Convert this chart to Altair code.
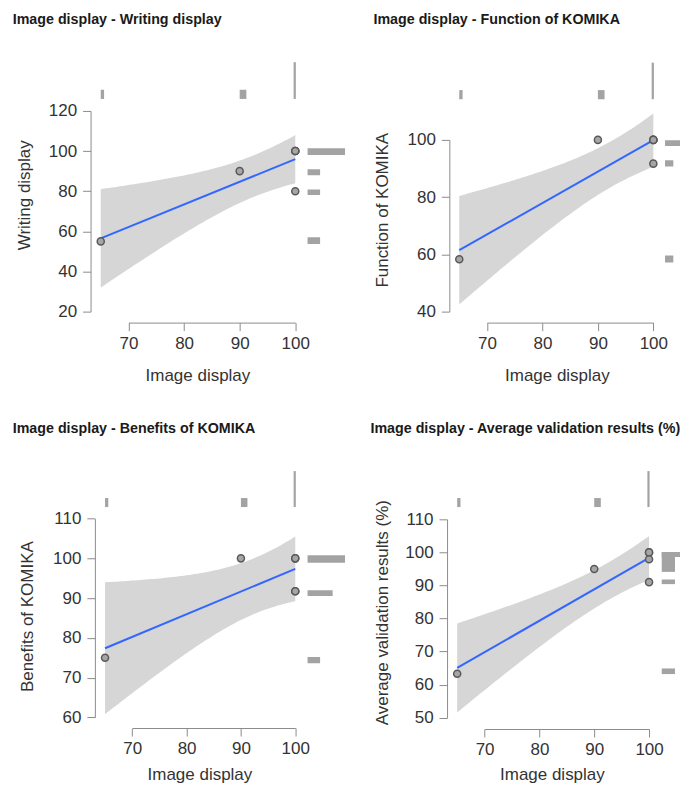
import altair as alt
import numpy as np
import pandas as pd

# ---------------- data ----------------
x_image = [65, 90, 100, 100, 100, 100]          # Image display
writing = [55, 90, 100, 100, 100, 80]           # Writing display
function = [58.3, 100, 100, 100, 100, 91.7]     # Function of KOMIKA
benefits = [75, 100, 100, 100, 91.7, 91.7]      # Benefits of KOMIKA
average = [63.3, 95, 100, 100, 97.9, 91.0]      # Average validation results (%)

x_ticks = [70, 80, 90, 100]
yticks_writing = [20, 40, 60, 80, 100, 120]
yticks_function = [40, 60, 80, 100]
yticks_benefits = [60, 70, 80, 90, 100, 110]
yticks_average = [50, 60, 70, 80, 90, 100, 110]

# marginal histogram of Image display (top strip): bin start, bin end, count
top_lo = [65.0, 90.0, 99.7]
top_hi = [65.6, 91.2, 100.1]
top_n = [1, 1, 4]

# marginal histograms of the y variables (right strips)
w_lo, w_hi, w_n = [98.1, 88.0, 78.1, 53.7], [101.4, 91.0, 80.8, 57.0], [3, 1, 1, 1]
f_lo, f_hi, f_n = [97.9, 90.7, 57.2], [99.9, 92.9, 59.6], [4, 1, 1]
b_lo, b_hi, b_n = [98.9, 90.5, 73.6], [100.8, 92.0, 75.2], [3, 2, 1]
a_lo, a_hi, a_n = [94.1, 98.6, 90.4, 63.2], [100.1, 100.1, 91.8, 64.9], [1, 3, 1, 1]

T_CRIT = 2.776  # t(0.975, df = n - 2 = 4)

FONT = "Liberation Sans"
BAND = "#d6d6d6"
BLUE = "#3366ff"
BAR = "#a3a3a3"
AX = "#8c8c8c"
TX = "#333333"


def band_frame(xv, yv):
    x = np.asarray(xv, float)
    y = np.asarray(yv, float)
    n = len(x)
    xm = x.mean()
    sxx = ((x - xm) ** 2).sum()
    b = ((x - xm) * (y - y.mean())).sum() / sxx
    a = y.mean() - b * xm
    s = np.sqrt(((y - (a + b * x)) ** 2).sum() / (n - 2))
    grid = np.linspace(x.min(), x.max(), 71)
    fit = a + b * grid
    se = s * np.sqrt(1.0 / n + (grid - xm) ** 2 / sxx)
    return pd.DataFrame({"x": grid, "lo": fit - T_CRIT * se, "hi": fit + T_CRIT * se})


def make_panel(title, ylab, yv, yticks, rlo, rhi, rn, g):
    pts = pd.DataFrame({"x": x_image, "y": yv})
    bd = band_frame(x_image, yv)
    top_df = pd.DataFrame({"lo": top_lo, "hi": top_hi, "n": top_n})
    right_df = pd.DataFrame({"lo": rlo, "hi": rhi, "n": rn})

    def xs():
        return alt.Scale(domain=[x_ticks[0], x_ticks[-1]], range=g["xr"], nice=False, zero=False)

    def ys():
        return alt.Scale(domain=[yticks[0], yticks[-1]], range=g["yr"], nice=False, zero=False)

    band = alt.Chart(bd).mark_area(color=BAND, opacity=1).encode(
        x=alt.X("x:Q", scale=xs(), axis=None),
        y=alt.Y("lo:Q", scale=ys(), axis=None),
        y2="hi:Q",
    )
    line = alt.Chart(pts).transform_regression("x", "y").mark_line(
        color=BLUE, strokeWidth=2
    ).encode(
        x=alt.X("x:Q", scale=xs(), axis=None),
        y=alt.Y("y:Q", scale=ys(), axis=None),
    )
    common = dict(
        tickSize=8, tickColor=AX, domainColor=AX, domainWidth=1, tickWidth=1,
        labelFont=FONT, titleFont=FONT, labelFontSize=17, titleFontSize=17,
        labelColor=TX, titleColor=TX, titleFontWeight="normal", grid=False,
        labelOverlap=False, labelFlush=False,
    )
    dots = alt.Chart(pts).mark_circle(
        size=50, fill="#a6a6a6", stroke="#595959", strokeWidth=1.5, opacity=1
    ).encode(
        x=alt.X("x:Q", scale=xs(), axis=alt.Axis(
            values=x_ticks, title="Image display", titleX=g["xtx"], titleY=g["xty"],
            titleBaseline="top", labelPadding=5, **common)),
        y=alt.Y("y:Q", scale=ys(), axis=alt.Axis(
            values=yticks, title=ylab, offset=g["yoff"], titleX=g["ytx"],
            titleY=g["yty"], labelPadding=6, **common)),
    )
    top = alt.Chart(top_df).mark_rect(color=BAR).encode(
        x=alt.X("lo:Q", scale=xs(), axis=None),
        x2="hi:Q",
        y=alt.Y("n:Q", scale=alt.Scale(domain=[0, 4], range=g["tr"], nice=False, zero=True), axis=None),
        y2=alt.datum(0),
    )
    right = alt.Chart(right_df).mark_rect(color=BAR, clip=True).encode(
        y=alt.Y("lo:Q", scale=ys(), axis=None),
        y2="hi:Q",
        x=alt.X("n:Q", scale=alt.Scale(domain=g["rd"], range=g["rr"], nice=False, zero=True), axis=None),
        x2=alt.datum(0),
    )
    return alt.layer(band, line, dots, top, right).resolve_scale(
        x="independent", y="independent"
    ).properties(
        width=g["w"], height=g["h"],
        title=alt.TitleParams(
            title, anchor="start", frame="group", dx=g["tdx"], offset=34,
            fontSize=14.3, fontWeight="bold", font=FONT, color="#1a1a1a",
        ),
    )


g1 = dict(w=250.7, h=262, xr=[33.7, 200.7], yr=[251, 50], tr=[38, 1.2], rd=[0, 3], rr=[213, 250.7],
          yoff=4.3, tdx=-82.3, ytx=-57, yty=134, xtx=102.7, xty=45)
g2 = dict(w=231, h=262, xr=[37.7, 204.3], yr=[251, 79], tr=[38.3, 1.7], rd=[0, 1], rr=[216, 224.3],
          yoff=0, tdx=-76, ytx=-57.7, yty=149, xtx=107.7, xty=45)
g3 = dict(w=250.7, h=258, xr=[37.4, 200.7], yr=[247.3, 48.3], tr=[36.7, 0.7], rd=[0, 3], rr=[213, 250.7],
          yoff=0, tdx=-82.3, ytx=-58, yty=146, xtx=104.7, xty=38.5)
g4 = dict(w=231, h=259, xr=[35.3, 200], yr=[247.7, 49], tr=[36.7, 0.7], rd=[0, 1], rr=[212.7, 226],
          yoff=2.3, tdx=-79, ytx=-55.7, yty=142, xtx=102.7, xty=37.5)

p1 = make_panel("Image display - Writing display", "Writing display", writing, yticks_writing, w_lo, w_hi, w_n, g1)
p2 = make_panel("Image display - Function of KOMIKA", "Function of KOMIKA", function, yticks_function, f_lo, f_hi, f_n, g2)
p3 = make_panel("Image display - Benefits of KOMIKA", "Benefits of KOMIKA", benefits, yticks_benefits, b_lo, b_hi, b_n, g3)
p4 = make_panel("Image display - Average validation results (%)", "Average validation results (%)", average, yticks_average, a_lo, a_hi, a_n, g4)

chart = alt.concat(
    p1, p2, p3, p4, columns=2, spacing={"row": 148, "column": 104}, bounds="flush", align="all"
).properties(
    padding={"left": 4, "top": 3.5, "right": 0, "bottom": 0}
).configure_view(stroke=None)

chart.save("out.html", embed_options={"renderer": "svg", "actions": False})
